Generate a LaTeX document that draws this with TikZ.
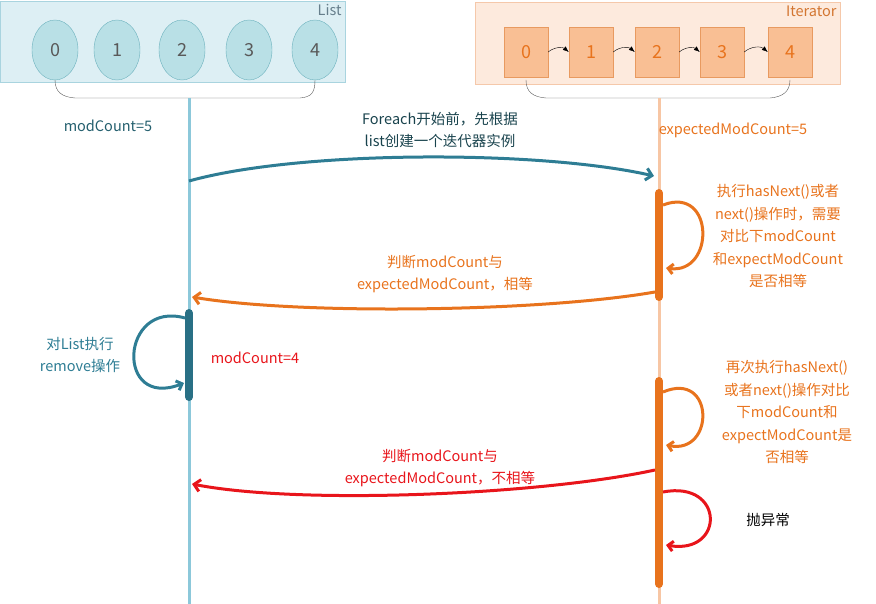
\documentclass[tikz,border=0pt]{standalone}
\usepackage{fontspec}
\setmainfont{Noto Sans CJK SC}
\usetikzlibrary{arrows.meta,shapes.geometric}
\definecolor{lbfill}{HTML}{DDEFF4}\definecolor{lbdraw}{HTML}{A9D4DF}
\definecolor{cfill}{HTML}{B9E0E6}\definecolor{cdraw}{HTML}{6DB2BE}
\definecolor{ofill}{HTML}{FDEADD}\definecolor{odraw}{HTML}{F5C8AA}
\definecolor{rfill}{HTML}{F9BF94}\definecolor{rdraw}{HTML}{E89A60}
\definecolor{org}{HTML}{E8731D}\definecolor{teal1}{HTML}{2E7D94}
\definecolor{dteal}{HTML}{245F6E}\definecolor{lblue}{HTML}{8CC8DA}
\definecolor{lorg}{HTML}{F7C6A4}\definecolor{red1}{HTML}{E8151B}
\begin{document}
\begin{tikzpicture}[x=1pt,y=-1pt,font=\fontsize{14.5}{22}\selectfont,
 circ/.style={ellipse,draw=cdraw,fill=cfill,minimum width=46,minimum height=60,text=gray!70!black,font=\fontsize{18}{18}\selectfont},
 sq/.style={rectangle,draw=rdraw,fill=rfill,minimum width=44,minimum height=50,text=org,font=\fontsize{18}{18}\selectfont},
 arr/.style={line width=3pt,-{Straight Barb[length=6pt,width=12pt]}},
 loop/.style={line width=3pt,-{Straight Barb[length=5pt,width=10pt]}},
 bar/.style={line width=8pt,line cap=round}]
\useasboundingbox (0,0) rectangle (876,604);
\draw[lbdraw,fill=lbfill] (0,1) rectangle (345,82);
\node[anchor=north east,text=gray!60!cyan!70!black] (lt) at (345,1) {List};
\foreach \i/\x in {0/55,1/117,2/182,3/249,4/315}{\node[circ] (c\i) at (\x,50) {\i};}
\draw[gray!70!black] (55,80) .. controls (55,92) and (62,97) .. (75,98) -- (300,98) .. controls (312,97) and (315,92) .. (315,80);
\draw[odraw,fill=ofill] (475,2) rectangle (840,84);
\node[anchor=north east,text=org!80!gray] (it) at (840,2) {Iterator};
\foreach \i/\x in {0/526,1/591,2/657,3/722,4/790}{\node[sq] (s\i) at (\x,52) {\i};}
\foreach \a/\b in {0/1,1/2,2/3,3/4}{\draw[-{Latex[length=6pt]},black] (s\a.east) to[bend left=40] (s\b.west);}
\draw[gray!70!black] (526,80) .. controls (526,92) and (533,97) .. (546,98) -- (770,98) .. controls (782,97) and (790,92) .. (790,80);
\coordinate (lt0) at (189,98); \coordinate (lt1) at (189,604);
\coordinate (rt0) at (659,98); \coordinate (rt1) at (659,604);
\draw[lblue,line width=3pt] (lt0) -- (lt1);
\draw[lorg,line width=3pt] (rt0) -- (rt1);
\node[text=dteal] (mc5) at (108,126) {modCount=5};
\node[text=org] (emc) at (733,130) {expectedModCount=5};
\node[text=dteal!70!black,align=center] (l1) at (440,130) {Foreach开始前，先根据\\list创建一个迭代器实例};
\coordinate (a1s) at (189,181); \coordinate (a1e) at (654,176);
\draw[arr,teal1] (a1s) .. controls (300,150) and (540,150) .. (a1e);
\draw[bar,org] (659,193) -- (659,297);
\draw[loop,org] (663,205) .. controls (715,185) and (715,275) .. (666,268);
\node[text=org,align=center,font=\fontsize{14.5}{22.5}\selectfont] (t1) at (778,236) {执行hasNext()或者\\next()操作时，需要\\对比下modCount\\和expectModCount\\是否相等};
\coordinate (a2s) at (655,292); \coordinate (a2e) at (192,297);
\draw[arr,org] (a2s) .. controls (540,312) and (300,315) .. (a2e);
\node[text=org,align=center] (l2) at (445,274) {判断modCount与\\expectedModCount，相等};
\draw[bar,teal1!90!black] (189,313) -- (189,397);
\draw[loop,teal1] (185,318) .. controls (120,300) and (115,410) .. (184,383);
\node[text=teal1,align=center] (t2) at (80,355) {对List执行\\remove操作};
\node[text=red1] (mc4) at (255,358) {modCount=4};
\draw[bar,org] (659,381) -- (659,584);
\draw[loop,org] (663,392) .. controls (715,370) and (715,455) .. (666,445);
\node[text=org,align=center,font=\fontsize{14.5}{22.5}\selectfont] (t3) at (787,412) {再次执行hasNext()\\或者next()操作对比\\下modCount和\\expectModCount是\\否相等};
\coordinate (a3s) at (655,470); \coordinate (a3e) at (192,484);
\draw[arr,red1] (a3s) .. controls (540,495) and (300,505) .. (a3e);
\node[text=red1,align=center] (l3) at (440,468) {判断modCount与\\expectedModCount，不相等};
\draw[loop,red1] (663,492) .. controls (725,480) and (725,555) .. (666,545);
\node (t4) at (768,520) {抛异常};
\end{tikzpicture}
\end{document}
